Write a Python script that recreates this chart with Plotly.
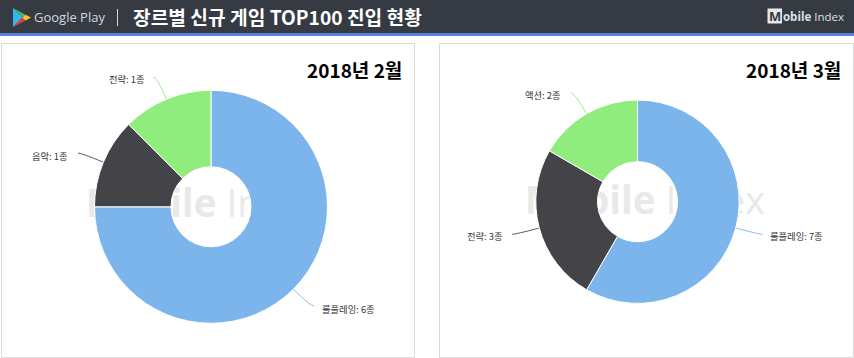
import math
import plotly.graph_objects as go

# ---- data
feb_labels = ["롤플레잉", "음악", "전략"]
feb_values = [6, 1, 1]
mar_labels = ["롤플레잉", "전략", "액션"]
mar_values = [7, 3, 2]
slice_colors = ["#7cb5ec", "#434348", "#90ed7d"]
feb_title = "2018년 2월"
mar_title = "2018년 3월"
header_title = "장르별 신규 게임 TOP100 진입 현황"
unit = "종"

W, H = 854, 358
KR = "Noto Sans CJK KR"

fig = go.Figure()
shapes, ann = [], []


def rect(x0, y0, x1, y1, fill, line=None, lw=0):
    shapes.append(dict(type="rect", xref="x", yref="y", x0=x0, y0=y0, x1=x1, y1=y1,
                       fillcolor=fill, line=dict(color=line or fill, width=lw),
                       layer="below"))


def path(d, fill=None, line=None, lw=0, opacity=1):
    shapes.append(dict(type="path", xref="x", yref="y", path=d, opacity=opacity,
                       fillcolor=fill or "rgba(0,0,0,0)",
                       line=dict(color=line or "rgba(0,0,0,0)", width=lw), layer="below"))


def text(x, y, s, size, color="#333333", anchor="left", family=KR):
    ann.append(dict(x=x, y=y, xref="x", yref="y", text=s, showarrow=False, xanchor=anchor,
                    yanchor="middle", font=dict(size=size, color=color, family=family),
                    borderpad=0, borderwidth=0))


# ---- header and panels
rect(0, 0, W, 33, "#353a43")
rect(0, 33, W, 36, "#5b7fe0")
rect(1.5, 43.5, 414.5, 357.5, "#ffffff", "#d9d9d9", 1)
rect(439.5, 43.5, 853.5, 357.5, "#ffffff", "#d9d9d9", 1)

# Google Play logo
path("M13,8 L13,27 L22.5,17.5 Z", fill="#35b6e8")
path("M13,8 L25.5,14.8 L22.5,17.5 Z", fill="#3fb96b")
path("M13,27 L25.5,20.4 L22.5,17.5 Z", fill="#e2403f")
path("M25.5,14.8 L31,17.5 L25.5,20.4 L22.5,17.5 Z", fill="#f7c52a")
text(34, 17, "Google Play", 13, "#d5d7da", family="Open Sans")
rect(117, 9, 118, 26, "#d5d7da")
text(133, 16.5, f"<b>{header_title}</b>", 19.2, "#ffffff")

# Mobile Index logo
shapes.append(dict(type="rect", xref="x", yref="y", x0=767.5, y0=8.5, x1=782, y1=23.5,
                   fillcolor="#e8e8e8", line=dict(color="#e8e8e8", width=0), layer="below"))
text(774.7, 16, "<b>M</b>", 13, "#353a43", "center", "Open Sans")
text(782.5, 16.5, "<b>obile</b> Index", 11.5, "#dfe0e2", family="Open Sans")

# ---- watermark below the pies
fig.add_trace(go.Scatter(x=[206, 645], y=[207, 204], mode="text",
                         text=["<b>Mobile</b> Index"] * 2, hoverinfo="skip", showlegend=False,
                         textposition="middle center",
                         textfont=dict(size=38.5, color="#e9e9e9", family="Open Sans")))

# ---- the two doughnuts
pies = [
    dict(labels=feb_labels, values=feb_values, cx=211, cy=206.8, r=116.5, hole=40 / 116.5,
         title=feb_title, title_x=402, title_y=69,
         label_ends=[(314, 306), (78, 153), (153, 77)],
         label_text=[(322, 308.5, "left"), (68, 155.5, "right"), (145, 78.5, "right")]),
    dict(labels=mar_labels, values=mar_values, cx=637.5, cy=201.7, r=101.7, hole=40 / 101.7,
         title=mar_title, title_x=841, title_y=69,
         label_ends=[(762.7, 234.3), (512, 234.3), (570.7, 92.7)],
         label_text=[(770, 236, "left"), (503, 236, "right"), (561, 95, "right")]),
]

for p in pies:
    fig.add_trace(go.Pie(
        labels=p["labels"], values=p["values"], sort=False, direction="clockwise", rotation=0,
        hole=p["hole"], textinfo="none", hoverinfo="label+value", showlegend=False,
        marker=dict(colors=slice_colors, line=dict(color="#ffffff", width=1)),
        domain=dict(x=[(p["cx"] - p["r"]) / W, (p["cx"] + p["r"]) / W],
                    y=[1 - (p["cy"] + p["r"]) / H, 1 - (p["cy"] - p["r"]) / H]),
    ))
    total = sum(p["values"])
    acc = 0
    for i, v in enumerate(p["values"]):
        mid = (acc + v / 2) / total * 2 * math.pi
        acc += v
        dx, dy = math.sin(mid), -math.cos(mid)
        ex = p["cx"] + p["r"] * dx
        ey = p["cy"] + p["r"] * dy
        lx, ly = p["label_ends"][i]
        t = (ly - ey) / dy
        ox, oy = ex + t * dx, ly
        path(f"M{ex:.1f},{ey:.1f} Q{ox:.1f},{oy:.1f} {lx},{ly}", line=slice_colors[i], lw=1,
             opacity=0.85)
        tx, ty, anc = p["label_text"][i]
        text(tx, ty, f"{p['labels'][i]}: {v}{unit}", 9.3, "#333333", anc)
    text(p["title_x"], p["title_y"], f"<b>{p['title']}</b>", 19, "#000000", "right")

fig.update_layout(
    width=W, height=H, margin=dict(l=0, r=0, t=0, b=0), autosize=False,
    paper_bgcolor="#ffffff", plot_bgcolor="rgba(0,0,0,0)", showlegend=False,
    xaxis=dict(range=[0, W], visible=False, fixedrange=True),
    yaxis=dict(range=[H, 0], visible=False, fixedrange=True),
    shapes=shapes, annotations=ann,
)
fig.write_html("out.html", config={"displayModeBar": False},
               post_script="document.body.style.margin='0';document.body.style.overflow='hidden';")
